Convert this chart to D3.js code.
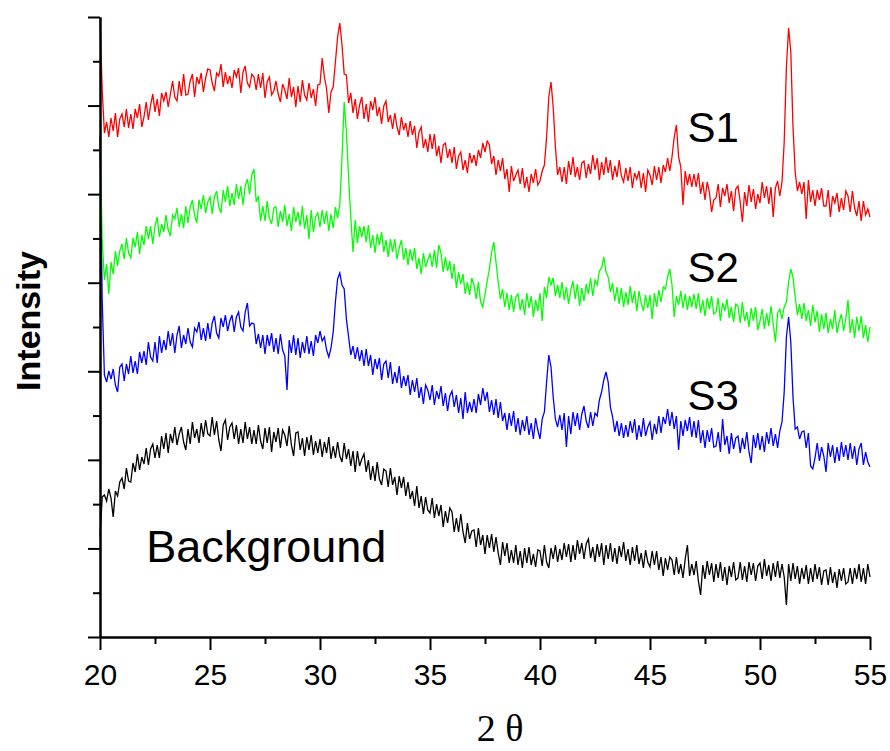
<!DOCTYPE html>
<html>
<head>
<meta charset="utf-8">
<script src="https://cdn.jsdelivr.net/npm/d3@7"></script>
<style>
  body { margin: 0; background: #fff; }
  svg text { font-family: "Liberation Sans", Arial, sans-serif; }
</style>
</head>
<body>
<div id="chart"></div>
<script>
// 2-theta scan: 20 to 55 degrees, one reading every 0.1 degree
const thetaStart = 20;
const thetaStep = 0.1;

const xTicks = [20, 25, 30, 35, 40, 45, 50, 55];
const xMinorTicks = [22.5, 27.5, 32.5, 37.5, 42.5, 47.5, 52.5];

const seriesNames = ["S1", "S2", "S3", "Background"];
const seriesColors = ["#ff0000", "#00ff00", "#0000ff", "#000000"];

// intensities (a.u., curves already offset)
const s1 = [
  617, 547, 504, 515, 500, 519, 506, 524, 500, 518,
  523, 510, 528, 509, 523, 508, 528, 519, 533, 510,
  520, 535, 517, 532, 543, 525, 538, 521, 544, 536,
  545, 530, 543, 556, 540, 536, 556, 541, 563, 542,
  543, 556, 563, 540, 560, 553, 564, 545, 559, 568,
  567, 554, 546, 564, 561, 573, 550, 565, 553, 561,
  549, 567, 560, 569, 544, 565, 571, 554, 550, 563,
  560, 547, 563, 549, 564, 539, 555, 560, 542, 546,
  556, 543, 535, 553, 547, 538, 559, 540, 550, 530,
  551, 535, 557, 542, 537, 554, 539, 548, 531, 552,
  553, 579, 560, 548, 524, 545, 550, 575, 600, 614,
  592, 563, 562, 534, 544, 524, 538, 518, 532, 540,
  518, 533, 515, 536, 527, 540, 521, 530, 513, 531,
  536, 515, 522, 508, 524, 510, 502, 520, 507, 514,
  500, 516, 502, 511, 489, 505, 510, 489, 498, 485,
  503, 488, 503, 481, 491, 474, 492, 494, 479, 488,
  474, 490, 468, 481, 485, 467, 477, 464, 484, 474,
  482, 471, 487, 479, 494, 485, 496, 492, 473, 481,
  462, 477, 466, 479, 458, 468, 445, 471, 456, 462,
  467, 453, 469, 449, 460, 445, 463, 454, 468, 452,
  456, 466, 472, 500, 540, 555, 530, 490, 462, 470,
  455, 470, 453, 476, 462, 480, 460, 470, 457, 474,
  476, 459, 473, 463, 482, 467, 479, 457, 475, 462,
  480, 464, 477, 457, 471, 460, 477, 461, 455, 469,
  456, 470, 449, 464, 458, 466, 449, 464, 445, 467,
  462, 452, 471, 457, 470, 454, 472, 465, 479, 466,
  480, 500, 512, 480, 470, 432, 466, 452, 463, 450,
  463, 450, 464, 443, 455, 437, 455, 445, 425, 437,
  439, 453, 430, 449, 441, 453, 434, 446, 426, 448,
  451, 435, 415, 445, 431, 452, 435, 448, 428, 443,
  434, 455, 439, 451, 433, 450, 420, 449, 456, 441,
  455, 495, 570, 609, 585, 510, 465, 446, 455, 443,
  455, 418, 457, 435, 447, 431, 447, 437, 449, 431,
  431, 447, 420, 441, 434, 444, 425, 439, 427, 446,
  441, 425, 446, 429, 421, 436, 416, 436, 422, 428,
  420
];

const s2 = [
  502, 397, 357, 373, 343, 375, 363, 386, 371, 386,
  393, 378, 399, 384, 379, 399, 390, 405, 383, 402,
  392, 411, 398, 411, 393, 411, 420, 400, 413, 405,
  422, 407, 401, 422, 418, 429, 410, 423, 409, 431,
  414, 430, 437, 422, 414, 437, 428, 442, 424, 435,
  440, 423, 440, 446, 430, 424, 447, 435, 451, 431,
  444, 432, 453, 438, 451, 432, 451, 458, 443, 462,
  468, 435, 441, 416, 431, 416, 436, 419, 413, 429,
  430, 410, 426, 415, 432, 411, 423, 406, 430, 415,
  425, 411, 431, 408, 422, 398, 427, 405, 420, 424,
  410, 427, 413, 426, 406, 423, 409, 430, 419, 432,
  480, 535, 505, 460, 420, 385, 417, 394, 411, 400,
  411, 395, 412, 389, 402, 384, 403, 392, 405, 385,
  397, 380, 398, 385, 398, 378, 389, 397, 377, 389,
  372, 388, 376, 389, 368, 379, 363, 384, 370, 377,
  383, 370, 387, 369, 392, 384, 365, 380, 366, 376,
  358, 373, 349, 365, 353, 363, 343, 355, 342, 359,
  352, 338, 355, 335, 330, 343, 356, 368, 385, 395,
  375, 355, 338, 348, 330, 344, 327, 342, 325, 340,
  343, 327, 338, 322, 344, 329, 341, 320, 337, 326,
  344, 316, 350, 339, 360, 352, 359, 341, 352, 339,
  355, 337, 350, 333, 347, 356, 338, 353, 331, 349,
  336, 353, 343, 359, 341, 357, 352, 366, 369, 380,
  365, 360, 345, 354, 336, 350, 333, 349, 330, 345,
  332, 351, 334, 346, 326, 346, 334, 326, 342, 329,
  342, 318, 344, 330, 347, 335, 350, 348, 360, 368,
  352, 320, 341, 332, 346, 329, 343, 327, 341, 330,
  343, 328, 344, 324, 337, 321, 339, 328, 341, 323,
  325, 339, 316, 334, 326, 338, 319, 330, 315, 333,
  331, 314, 335, 316, 325, 310, 329, 316, 330, 307,
  316, 328, 308, 324, 311, 331, 313, 295, 324, 328,
  318, 330, 335, 355, 368, 360, 340, 322, 333, 318,
  334, 316, 327, 311, 332, 315, 326, 305, 323, 308,
  324, 304, 318, 308, 327, 304, 315, 323, 306, 318,
  337, 304, 318, 299, 320, 306, 321, 299, 312, 295,
  310
];

const s3 = [
  500, 337, 262, 255, 266, 258, 268, 252, 245, 270,
  273, 256, 273, 263, 281, 264, 276, 263, 285, 274,
  286, 272, 295, 280, 276, 295, 274, 301, 284, 297,
  287, 306, 291, 304, 284, 302, 311, 289, 302, 293,
  309, 295, 290, 309, 305, 315, 297, 309, 296, 314,
  298, 314, 321, 304, 299, 319, 310, 322, 306, 316,
  322, 305, 320, 325, 310, 306, 325, 334, 311, 314,
  313, 293, 303, 289, 302, 283, 302, 291, 304, 285,
  299, 283, 303, 287, 281, 247, 297, 284, 302, 282,
  299, 279, 295, 284, 301, 283, 296, 281, 302, 294,
  306, 296, 300, 287, 280, 289, 305, 335, 358, 364,
  352, 348, 318, 300, 282, 291, 278, 290, 276, 287,
  271, 288, 271, 282, 262, 278, 268, 279, 257, 273,
  276, 259, 275, 253, 265, 254, 271, 249, 261, 251,
  262, 242, 257, 245, 259, 239, 250, 233, 252, 247,
  237, 252, 232, 246, 238, 251, 231, 244, 226, 241,
  246, 230, 242, 224, 239, 218, 245, 224, 235, 225,
  238, 224, 243, 232, 249, 236, 245, 225, 237, 222,
  238, 219, 235, 216, 224, 207, 224, 211, 226, 205,
  219, 202, 217, 206, 221, 202, 214, 198, 219, 207,
  198, 218, 225, 255, 282, 270, 240, 218, 210, 222,
  207, 224, 190, 221, 203, 225, 211, 224, 207, 223,
  231, 216, 209, 225, 211, 224, 221, 237, 245, 257,
  265, 255, 230, 220, 205, 216, 201, 214, 199, 212,
  200, 216, 204, 218, 197, 212, 200, 219, 201, 210,
  215, 197, 213, 203, 221, 204, 220, 213, 228, 211,
  225, 208, 221, 187, 216, 201, 217, 206, 220, 200,
  216, 199, 217, 194, 207, 189, 207, 195, 209, 190,
  191, 205, 185, 218, 192, 201, 183, 204, 188, 199,
  201, 184, 199, 188, 205, 185, 174, 202, 189, 204,
  187, 201, 185, 205, 193, 209, 191, 203, 189, 206,
  215, 245, 300, 320, 295, 240, 208, 210, 198, 205,
  206, 189, 204, 171, 168, 179, 194, 176, 190, 181,
  165, 194, 180, 192, 174, 190, 176, 195, 180, 192,
  177, 194, 178, 191, 172, 188, 194, 172, 185, 175,
  170
];

const background = [
  100, 140, 142, 136, 148, 139, 120, 146, 141, 155,
  159, 148, 169, 156, 155, 174, 165, 183, 167, 180,
  173, 189, 172, 188, 193, 179, 192, 179, 201, 188,
  204, 184, 203, 194, 210, 192, 203, 210, 195, 187,
  208, 193, 215, 199, 208, 194, 214, 200, 217, 203,
  201, 220, 202, 216, 197, 186, 212, 217, 197, 210,
  214, 198, 212, 193, 208, 194, 215, 198, 210, 193,
  207, 193, 212, 196, 188, 209, 194, 210, 185, 205,
  195, 209, 189, 207, 202, 191, 211, 192, 181, 204,
  205, 187, 199, 181, 200, 187, 202, 182, 196, 184,
  198, 180, 195, 184, 200, 178, 191, 179, 195, 181,
  175, 194, 178, 188, 171, 186, 165, 186, 171, 178,
  183, 165, 177, 157, 171, 156, 175, 158, 152, 168,
  166, 150, 169, 152, 160, 142, 161, 149, 160, 141,
  155, 138, 146, 131, 151, 129, 141, 123, 140, 127,
  124, 139, 119, 133, 121, 132, 110, 126, 114, 129,
  125, 105, 119, 105, 123, 105, 94, 114, 98, 106,
  107, 90, 109, 92, 102, 83, 102, 89, 103, 85,
  100, 84, 72, 95, 81, 94, 74, 87, 74, 92,
  72, 86, 69, 89, 74, 90, 72, 83, 70, 87,
  86, 71, 92, 75, 69, 89, 78, 92, 75, 88,
  77, 94, 80, 93, 75, 92, 77, 97, 83, 94,
  78, 93, 98, 79, 90, 75, 93, 80, 94, 72,
  92, 78, 94, 75, 89, 73, 91, 80, 95, 76,
  88, 72, 90, 76, 92, 73, 84, 69, 87, 75,
  70, 86, 72, 86, 67, 80, 61, 79, 67, 80,
  77, 62, 80, 63, 73, 59, 78, 92, 61, 73,
  62, 76, 56, 42, 72, 58, 76, 62, 74, 55,
  73, 59, 75, 56, 70, 52, 71, 60, 75, 57,
  59, 75, 57, 71, 55, 75, 62, 74, 56, 71,
  74, 58, 78, 61, 72, 56, 74, 60, 76, 59,
  73, 60, 32, 73, 56, 74, 58, 71, 53, 69,
  58, 72, 53, 69, 55, 73, 58, 70, 52, 66,
  67, 52, 70, 54, 65, 49, 68, 56, 69, 53,
  55, 69, 53, 69, 58, 73, 55, 69, 53, 73,
  60
];

// where each label sits, in data units (2theta, intensity)
const labelPos = [[46.7, 495], [46.7, 355], [46.7, 227], [22.1, 75]];

const width = 890, height = 751;
const margin = { top: 17, right: 20, bottom: 114, left: 100 };

const svg = d3.select("#chart").append("svg")
  .attr("width", width)
  .attr("height", height);

const x = d3.scaleLinear()
  .domain([20, 55])
  .range([margin.left, width - margin.right]);

const y = d3.scaleLinear()
  .domain([0, 620])
  .range([height - margin.bottom, margin.top]);

// seven equal y divisions, no labels
const yMajorTicks = d3.range(8).map(i => i * 620 / 7);
const yMinorTicks = d3.range(7).map(i => (i + 0.5) * 620 / 7);

const allSeries = [s1, s2, s3, background];

const line = d3.line()
  .x((d, i) => x(thetaStart + i * thetaStep))
  .y(d => y(d));

// draw from the bottom curve up so red ends on top
for (let k = allSeries.length - 1; k >= 0; k--) {
  svg.append("path")
    .datum(allSeries[k])
    .attr("fill", "none")
    .attr("stroke", seriesColors[k])
    .attr("stroke-width", 1.3)
    .attr("d", line);
}

// axes
const xAxis = svg.append("g")
  .attr("transform", `translate(0,${y(0)})`)
  .call(d3.axisBottom(x).tickValues(xTicks).tickSize(13).tickSizeOuter(0).tickPadding(14));
svg.append("g")
  .attr("transform", `translate(0,${y(0)})`)
  .call(d3.axisBottom(x).tickValues(xMinorTicks).tickSize(7).tickSizeOuter(0).tickFormat(""));

svg.append("g")
  .attr("transform", `translate(${x(20)},0)`)
  .call(d3.axisLeft(y).tickValues(yMajorTicks).tickSize(12).tickSizeOuter(0).tickFormat(""));
svg.append("g")
  .attr("transform", `translate(${x(20)},0)`)
  .call(d3.axisLeft(y).tickValues(yMinorTicks).tickSize(7).tickSizeOuter(0).tickFormat(""));

svg.selectAll(".domain, .tick line")
  .attr("stroke", "#000")
  .attr("stroke-width", 2);

xAxis.selectAll("text")
  .attr("font-size", 30)
  .attr("fill", "#000");

// series labels
svg.selectAll(".series-label")
  .data(seriesNames)
  .enter().append("text")
  .attr("class", "series-label")
  .attr("x", (d, i) => x(labelPos[i][0]))
  .attr("y", (d, i) => y(labelPos[i][1]))
  .attr("font-size", (d, i) => i === 3 ? 45 : 42)
  .attr("fill", "#000")
  .text(d => d);

// axis titles
svg.append("text")
  .attr("transform", "translate(40,321) rotate(-90)")
  .attr("text-anchor", "middle")
  .attr("font-size", 34)
  .attr("font-weight", "bold")
  .text("Intensity");

svg.append("text")
  .attr("x", 500)
  .attr("y", 741)
  .attr("text-anchor", "middle")
  .attr("font-size", 38)
  .style("font-family", "'Liberation Serif', 'Times New Roman', serif")
  .text("2 θ");
</script>
</body>
</html>
